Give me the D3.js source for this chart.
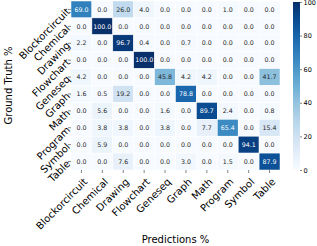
<!DOCTYPE html>
<html>
<head>
<meta charset="utf-8">
<script src="https://cdn.jsdelivr.net/npm/d3@7"></script>
<style>
body { margin: 0; background: #fff; }
text { font-family: "DejaVu Sans", sans-serif; }
</style>
</head>
<body>
<div id="chart"></div>
<script>
var w = 317, h = 246;
var categories = ["Blockorcircuit", "Chemical", "Drawing", "Flowchart", "Geneseq",
                  "Graph", "Math", "Program", "Symbol", "Table"];
var matrix = [
    [69.0, 0.0, 26.0, 4.0, 0.0, 0.0, 0.0, 1.0, 0.0, 0.0],
    [0.0, 100.0, 0.0, 0.0, 0.0, 0.0, 0.0, 0.0, 0.0, 0.0],
    [2.2, 0.0, 96.7, 0.4, 0.0, 0.7, 0.0, 0.0, 0.0, 0.0],
    [0.0, 0.0, 0.0, 100.0, 0.0, 0.0, 0.0, 0.0, 0.0, 0.0],
    [4.2, 0.0, 0.0, 0.0, 45.8, 4.2, 4.2, 0.0, 0.0, 41.7],
    [1.6, 0.5, 19.2, 0.0, 0.0, 78.8, 0.0, 0.0, 0.0, 0.0],
    [0.0, 5.6, 0.0, 0.0, 1.6, 0.0, 89.7, 2.4, 0.0, 0.8],
    [0.0, 3.8, 3.8, 0.0, 3.8, 0.0, 7.7, 65.4, 0.0, 15.4],
    [0.0, 5.9, 0.0, 0.0, 0.0, 0.0, 0.0, 0.0, 94.1, 0.0],
    [0.0, 0.0, 7.6, 0.0, 0.0, 3.0, 0.0, 1.5, 0.0, 87.9]
];
var cbarTicks = [0, 20, 40, 60, 80, 100];

var m_left = 71, m_right = 280, m_top = 1, m_bottom = 170;

var svg = d3.select("#chart").append("svg")
    .attr("width", w)
    .attr("height", h);

var x = d3.scaleBand().domain(categories).range([m_left, m_right]);
var y = d3.scaleBand().domain(categories).range([m_top, m_bottom]);
var color = d3.scaleSequential(d3.interpolateBlues).domain([0, 100]);

var cells = [];
matrix.forEach(function(row, i) {
    row.forEach(function(v, j) {
        cells.push({ gt: categories[i], pred: categories[j], val: v });
    });
});

svg.selectAll(".cell")
    .data(cells)
    .enter()
    .append("rect")
    .attr("class", "cell")
    .attr("x", function(d) { return x(d.pred); })
    .attr("y", function(d) { return y(d.gt); })
    .attr("width", x.bandwidth())
    .attr("height", y.bandwidth())
    .attr("fill", function(d) { return color(d.val); })
    .attr("stroke", "#fff")
    .attr("stroke-width", 0.5);

function textColor(v) {
    var c = d3.rgb(color(v));
    var lum = (0.299 * c.r + 0.587 * c.g + 0.114 * c.b) / 255;
    return lum < 0.6 ? "#fff" : "#262626";
}

svg.selectAll(".val")
    .data(cells)
    .enter()
    .append("text")
    .attr("class", "val")
    .attr("x", function(d) { return x(d.pred) + x.bandwidth() / 2; })
    .attr("y", function(d) { return y(d.gt) + y.bandwidth() / 2; })
    .attr("dy", "0.35em")
    .attr("text-anchor", "middle")
    .attr("font-size", "6.3px")
    .attr("fill", function(d) { return textColor(d.val); })
    .text(function(d) { return d.val.toFixed(1); });

// axes
var xAxis = d3.axisBottom(x).tickSize(3).tickSizeOuter(0);
var yAxis = d3.axisLeft(y).tickSize(3).tickSizeOuter(0);

var gx = svg.append("g")
    .attr("transform", "translate(0," + m_bottom + ")")
    .call(xAxis);
gx.select(".domain").remove();
gx.selectAll(".tick line").attr("stroke", "#333").attr("stroke-width", 0.6);
gx.selectAll(".tick text")
    .attr("font-size", "10px")
    .attr("fill", "#000")
    .attr("text-anchor", "end")
    .attr("y", 0)
    .attr("dy", "0.35em")
    .attr("transform", "translate(4,10) rotate(-45)");

var gy = svg.append("g")
    .attr("transform", "translate(" + m_left + ",0)")
    .call(yAxis);
gy.select(".domain").remove();
gy.selectAll(".tick line").attr("stroke", "#333").attr("stroke-width", 0.6);
gy.selectAll(".tick text")
    .attr("font-size", "10px")
    .attr("fill", "#000")
    .attr("x", -3)
    .attr("dy", "0.4em")
    .attr("transform", "rotate(-45,-3,0)");

// colorbar
var cbx = 293, cbw = 7;
var cy = d3.scaleLinear().domain([0, 100]).range([m_bottom, m_top + 1]);
var defs = svg.append("defs");
var grad = defs.append("linearGradient")
    .attr("id", "cbar")
    .attr("x1", 0).attr("y1", 1).attr("x2", 0).attr("y2", 0);
d3.range(0, 1.01, 0.1).forEach(function(t) {
    grad.append("stop")
        .attr("offset", t)
        .attr("stop-color", color(t * 100));
});
svg.append("rect")
    .attr("x", cbx)
    .attr("y", cy(100))
    .attr("width", cbw)
    .attr("height", cy(0) - cy(100))
    .attr("fill", "url(#cbar)");

var gc = svg.append("g")
    .attr("transform", "translate(" + (cbx + cbw) + ",0)")
    .call(d3.axisRight(cy).tickValues(cbarTicks).tickSize(2).tickPadding(1.5));
gc.select(".domain").remove();
gc.selectAll(".tick line").attr("stroke", "#333").attr("stroke-width", 0.6);
gc.selectAll(".tick text")
    .attr("font-size", "6.5px")
    .attr("fill", "#000");

// axis titles
svg.append("text")
    .attr("transform", "translate(12," + ((m_top + m_bottom) / 2) + ") rotate(-90)")
    .attr("text-anchor", "middle")
    .attr("font-size", "10px")
    .attr("fill", "#000")
    .text("Ground Truth %");

svg.append("text")
    .attr("x", (m_left + m_right) / 2)
    .attr("y", 243)
    .attr("text-anchor", "middle")
    .attr("font-size", "10px")
    .attr("fill", "#000")
    .text("Predictions %");
</script>
</body>
</html>
